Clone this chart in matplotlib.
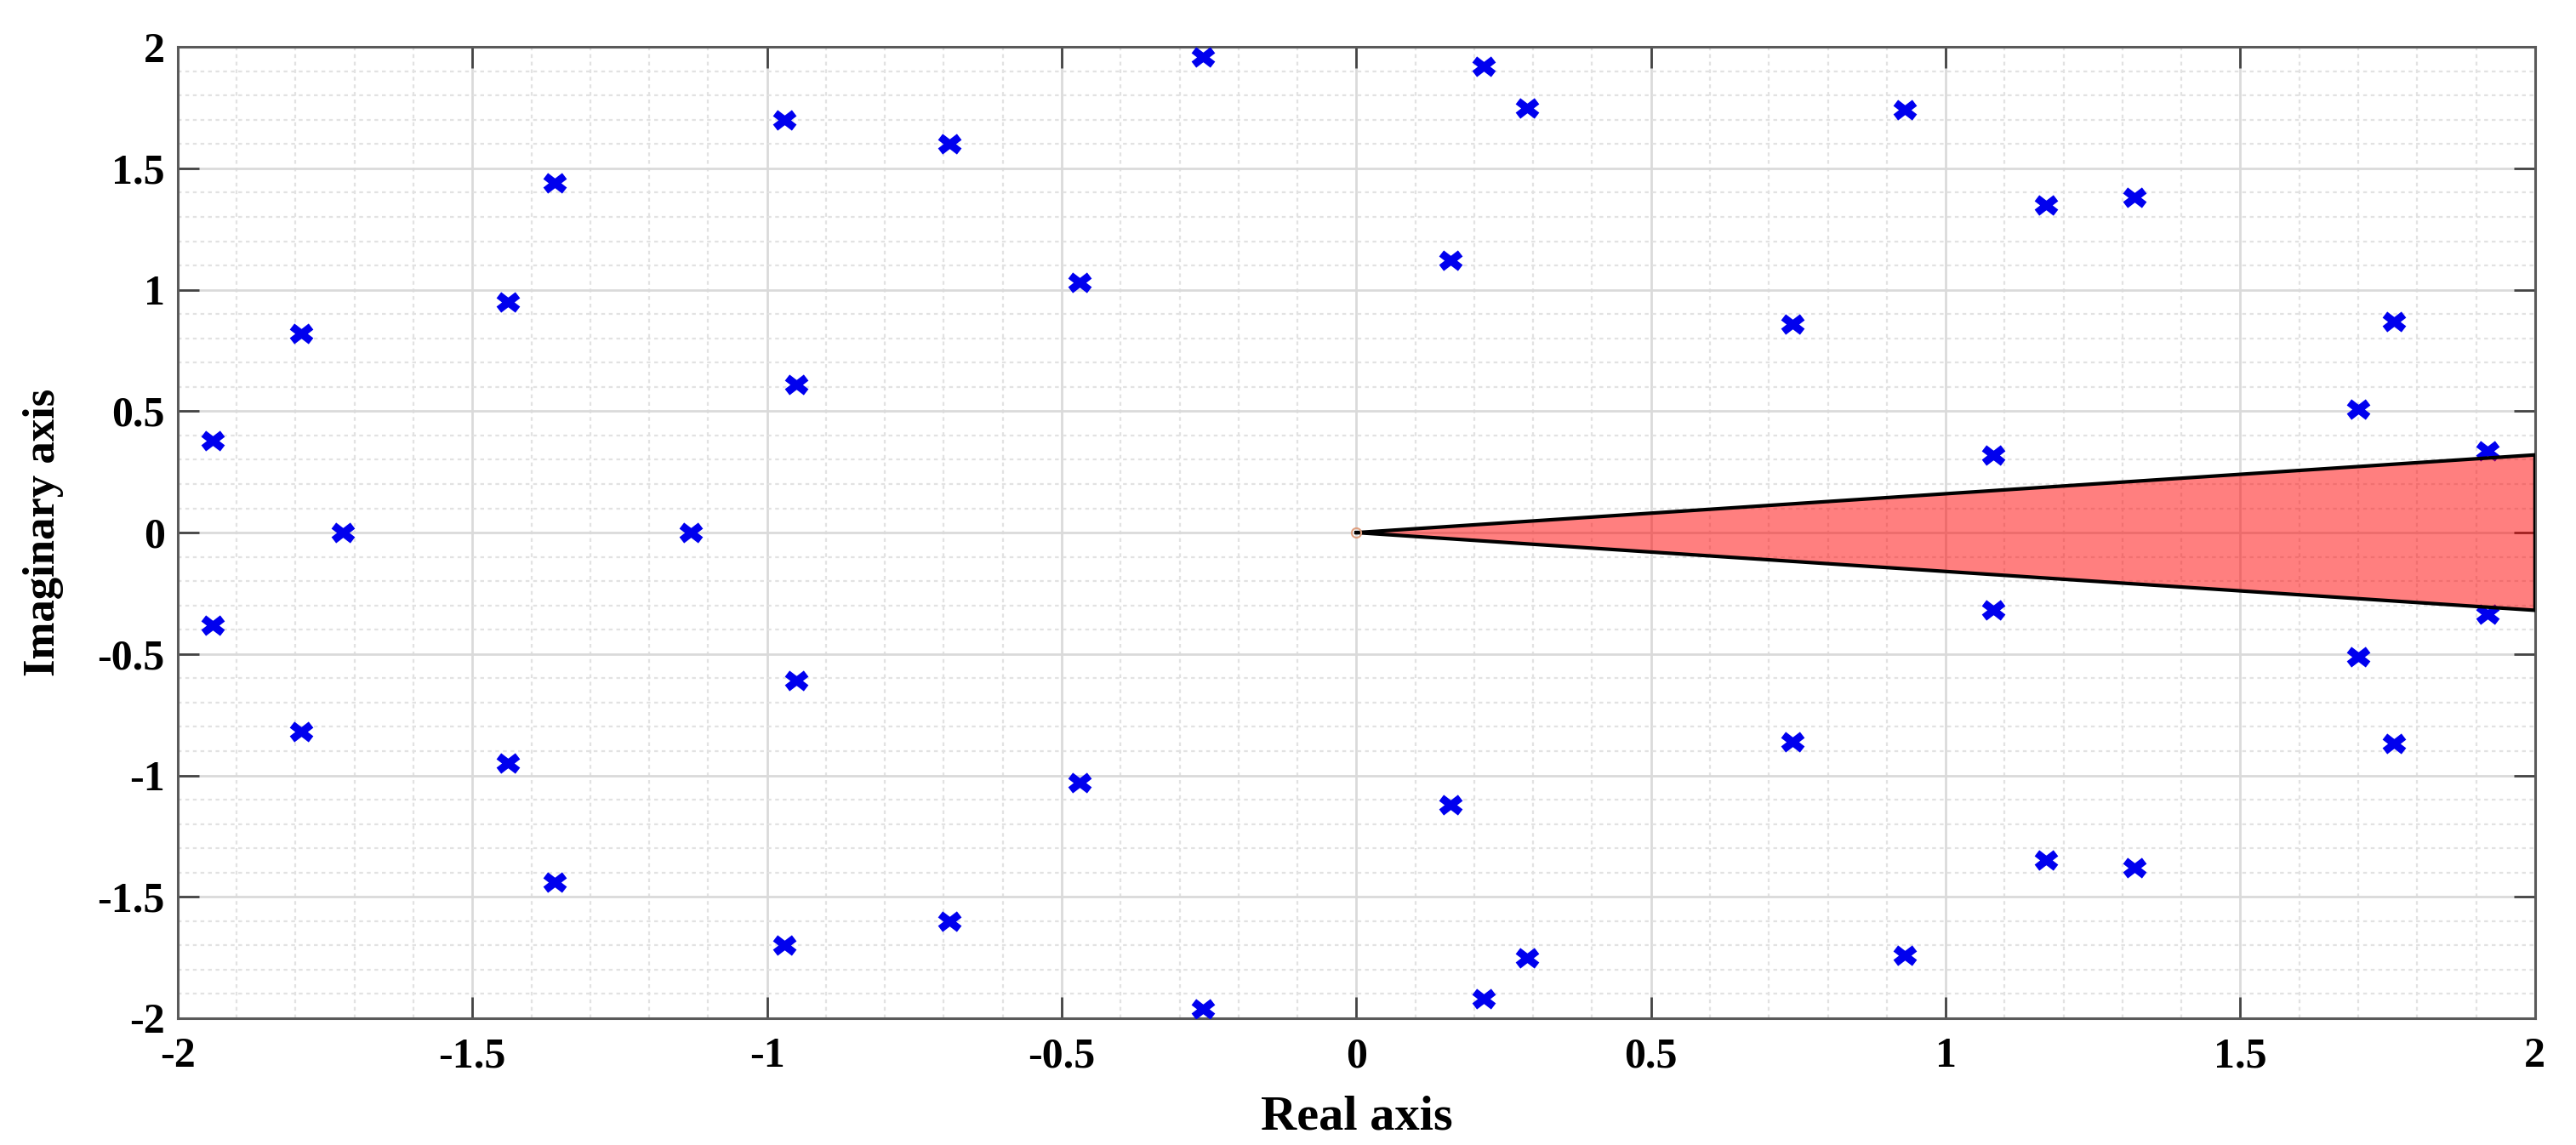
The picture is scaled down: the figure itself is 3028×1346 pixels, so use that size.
import numpy as np
import matplotlib
matplotlib.use("Agg")
import matplotlib.pyplot as plt
from matplotlib.ticker import MultipleLocator
from matplotlib.path import Path

# Poles in the upper half-plane (lower half is the complex conjugate)
pole_re_upper = [-1.94, -1.79, -1.44, -1.36, -0.97, -0.69, -0.95, -0.47, -0.26,
                 0.16, 0.216, 0.29, 0.74, 0.93, 1.08, 1.17, 1.32, 1.70, 1.76, 1.92]
pole_im_upper = [0.38, 0.82, 0.95, 1.44, 1.70, 1.60, 0.61, 1.03, 1.96,
                 1.12, 1.92, 1.75, 0.86, 1.74, 0.32, 1.35, 1.38, 0.51, 0.87, 0.335]
# Real poles
pole_re_real = [-1.72, -1.13]
pole_im_real = [0.0, 0.0]

# Stability wedge: apex at origin, edges reaching x = 2
wedge_x = [0.0, 2.0, 2.0]
wedge_y = [0.0, 0.32, -0.32]

xticks = [-2, -1.5, -1, -0.5, 0, 0.5, 1, 1.5, 2]
yticks = [-2, -1.5, -1, -0.5, 0, 0.5, 1, 1.5, 2]
xtick_labels = ["-2", "-1.5", "-1", "-0.5", "0", "0.5", "1", "1.5", "2"]
ytick_labels = ["-2", "-1.5", "-1", "-0.5", "0", "0.5", "1", "1.5", "2"]

re_all = np.array(pole_re_upper + pole_re_upper + pole_re_real)
im_all = np.array(pole_im_upper + [-v for v in pole_im_upper] + pole_im_real)

plt.rcParams['font.family'] = ['Liberation Serif', 'DejaVu Serif']
plt.rcParams['font.weight'] = 'bold'

# slightly wide "x" marker (the reference figure is horizontally stretched)
wide_x = Path([(-1.3, -1), (1.3, 1), (-1.3, 1), (1.3, -1)],
              [Path.MOVETO, Path.LINETO, Path.MOVETO, Path.LINETO])

fig = plt.figure(figsize=(30.28, 13.46), dpi=100)
ax = fig.add_axes([0.069, 0.1107, 0.9151, 0.8483])

ax.set_xlim(-2, 2)
ax.set_ylim(-2, 2)

ax.xaxis.set_minor_locator(MultipleLocator(0.1))
ax.yaxis.set_minor_locator(MultipleLocator(0.1))
ax.grid(which='major', color='#dadada', linewidth=2.0, linestyle='-', zorder=0)
ax.grid(which='minor', color='#e2e2e2', linewidth=1.6, linestyle=(0, (2, 2)), zorder=0)
ax.set_axisbelow(True)

ax.plot(re_all, im_all, linestyle='none', marker=wide_x, color='#0000ee',
        markersize=16, markeredgewidth=6.5, zorder=3)

ax.fill(wedge_x, wedge_y, facecolor='#ff0000', alpha=0.5, edgecolor='none', zorder=4)
ax.plot(wedge_x + [wedge_x[0]], wedge_y + [wedge_y[0]], color='black', linewidth=3.0, zorder=5)

ax.plot([0], [0], marker='o', markersize=8, markerfacecolor='none',
        markeredgecolor='#e0a080', markeredgewidth=1.5, zorder=6)

ax.set_xticks(xticks)
ax.set_xticklabels(xtick_labels)
ax.set_yticks(yticks)
ax.set_yticklabels(ytick_labels)
ax.tick_params(which='major', direction='in', length=18, width=2, color='#444444',
               labelsize=36, top=True, right=True)
ax.tick_params(axis='x', which='major', pad=16)
ax.tick_params(axis='y', which='major', pad=11)
ax.tick_params(which='minor', length=0)
for lab in ax.get_xticklabels() + ax.get_yticklabels():
    lab.set_fontweight('bold')

for s in ax.spines.values():
    s.set_color('#5a5a5a')
    s.set_linewidth(2.2)

ax.set_xlabel('Real axis', fontsize=42, fontweight='bold', labelpad=16)
ax.set_ylabel('Imaginary axis', fontsize=38, fontweight='bold', labelpad=28)

fig.savefig('out.png', dpi=100, facecolor='white')
